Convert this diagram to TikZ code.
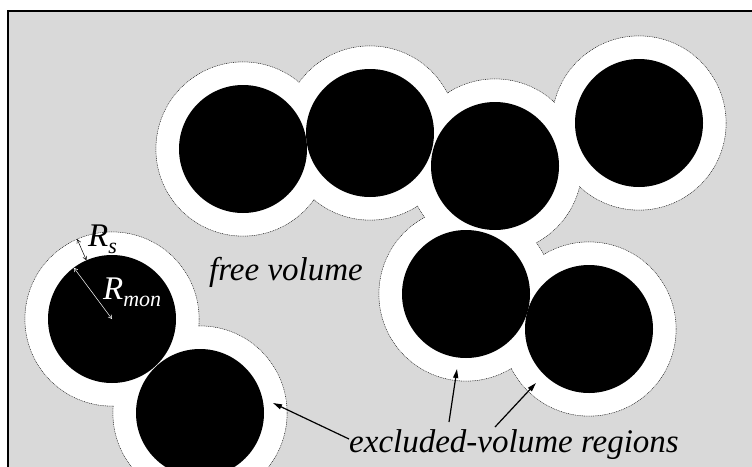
\documentclass[tikz,border=0pt]{standalone}
\usepackage{fontspec}
\setmainfont{Liberation Serif}
\usetikzlibrary{arrows.meta}
\definecolor{bg}{HTML}{D9D9D9}
\begin{document}
\begin{tikzpicture}[x=1pt,y=-1pt,
  halo/.style={draw=black!85, line width=0.8pt, densely dotted},
  bigtxt/.style={font=\fontsize{33}{40}\selectfont\itshape, inner sep=0pt},
  pointer/.style={-{Triangle[length=9pt,width=5pt]}, line width=1.2pt},
  measure/.style={{Straight Barb[length=3.5pt,width=4pt]}-{Straight Barb[length=3.5pt,width=4pt]}, line width=0.5pt}]
\useasboundingbox (0,0) rectangle (752,466);
\clip (0,0) rectangle (752,466);
\draw[fill=bg, line width=2pt] (8,11) rectangle (790,490);
% monomer centres
\coordinate (m1) at (243,149);
\coordinate (m2) at (370,133);
\coordinate (m3) at (495,166);
\coordinate (m4) at (639,123);
\coordinate (m5) at (466,294);
\coordinate (m6) at (589,329);
\coordinate (m7) at (112,319);
\coordinate (m8) at (200,413);
\foreach \c in {m1,m2,m3,m4,m5,m6,m7,m8} \draw[halo] (\c) circle[radius=87pt];
\foreach \c in {m1,m2,m3,m4,m5,m6,m7,m8} \fill[white] (\c) circle[radius=86.7pt];
\foreach \c in {m1,m2,m3,m4,m5,m6,m7,m8} \fill[black] (\c) circle[radius=64pt];
% labels
\node[bigtxt, anchor=base west] (free) at (209,280) {free volume};
\node[bigtxt, anchor=base west] (excl) at (349,452) {excluded-volume regions};
\node[bigtxt, anchor=base west] (rs) at (88,246) {R\raisebox{-7pt}{\fontsize{22}{22}\selectfont s}};
\node[bigtxt, anchor=base west, text=white] (rmon) at (103,299) {R\raisebox{-7pt}{\fontsize{22}{22}\selectfont mon}};
% measurement arrows
\coordinate (rsout) at (77.2,239.2);
\coordinate (rsin) at (86.4,260.3);
\coordinate (rmonend) at (73.8,267.7);
\draw[measure] (rsout) -- (rsin);
\draw[measure, white] (rmonend) -- (m7);
% pointer arrows
\coordinate (s1) at (349,439);
\coordinate (t1) at (273,403);
\coordinate (s2) at (449,422);
\coordinate (t2) at (457,369);
\coordinate (s3) at (495,427);
\coordinate (t3) at (536,383);
\draw[pointer] (s1) -- (t1);
\draw[pointer] (s2) -- (t2);
\draw[pointer] (s3) -- (t3);
\end{tikzpicture}
\end{document}
